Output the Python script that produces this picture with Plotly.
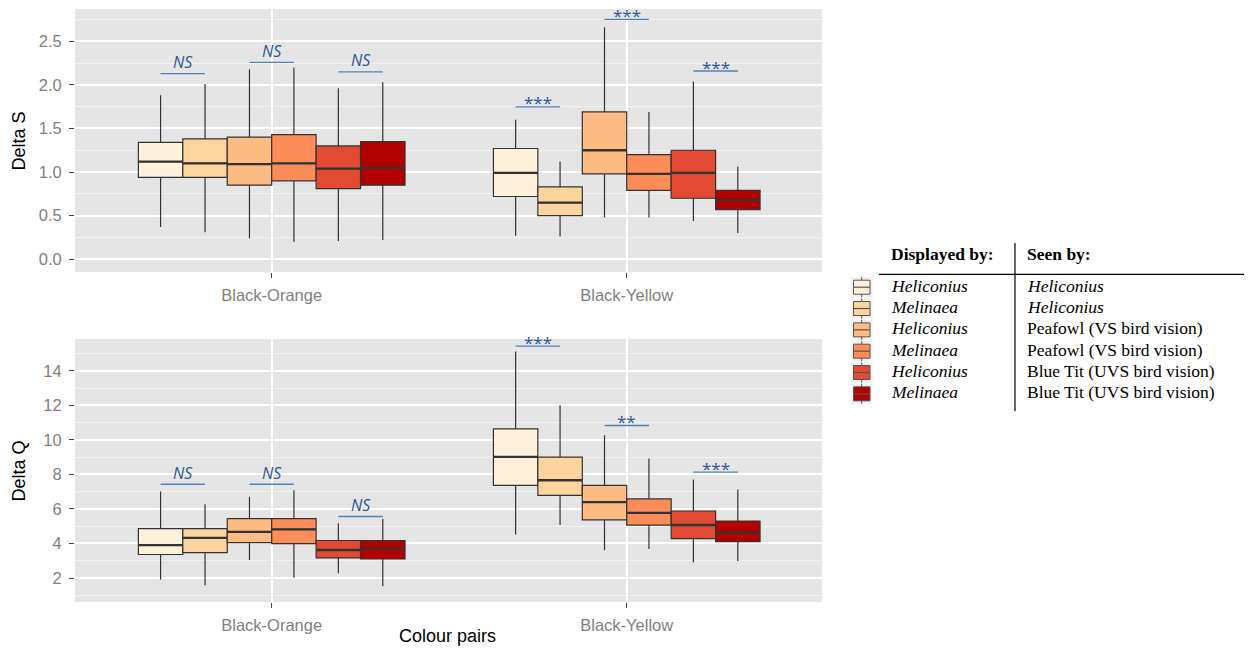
import plotly.graph_objects as go

# ---------------- data ----------------
categories = ['Black-Orange', 'Black-Yellow']
displayed_by = ['Heliconius', 'Melinaea', 'Heliconius', 'Melinaea', 'Heliconius', 'Melinaea']
seen_by = ['Heliconius', 'Heliconius', 'Peafowl (VS bird vision)', 'Peafowl (VS bird vision)',
           'Blue Tit (UVS bird vision)', 'Blue Tit (UVS bird vision)']
seen_italic = [True, True, False, False, False, False]
fill_colors = ['#FEF0D9', '#FDD49E', '#FDBB84', '#FC8D59', '#E34A33', '#B30000']

# Delta S: one list per series, values for [Black-Orange, Black-Yellow]
dS_low = [[0.37, 0.27], [0.31, 0.26], [0.24, 0.48], [0.20, 0.48], [0.21, 0.44], [0.22, 0.30]]
dS_q1 = [[0.94, 0.72], [0.94, 0.50], [0.85, 0.98], [0.90, 0.79], [0.81, 0.70], [0.85, 0.57]]
dS_med = [[1.12, 0.99], [1.10, 0.65], [1.09, 1.25], [1.10, 0.98], [1.04, 0.99], [1.05, 0.68]]
dS_q3 = [[1.34, 1.27], [1.38, 0.83], [1.40, 1.69], [1.43, 1.20], [1.30, 1.25], [1.35, 0.79]]
dS_high = [[1.88, 1.60], [2.01, 1.12], [2.18, 2.66], [2.20, 1.69], [1.96, 2.04], [2.03, 1.06]]

# Delta Q
dQ_low = [[1.91, 4.52], [1.58, 5.07], [3.04, 3.61], [2.02, 3.68], [2.27, 2.91], [1.52, 2.99]]
dQ_q1 = [[3.36, 7.36], [3.47, 6.78], [4.05, 5.36], [3.99, 5.06], [3.16, 4.28], [3.10, 4.11]]
dQ_med = [[3.90, 9.01], [4.32, 7.66], [4.67, 6.39], [4.81, 5.77], [3.62, 5.07], [3.72, 4.63]]
dQ_q3 = [[4.86, 10.64], [4.86, 9.00], [5.44, 7.36], [5.44, 6.58], [4.17, 5.88], [4.17, 5.30]]
dQ_high = [[7.01, 15.12], [6.27, 12.01], [6.70, 10.26], [7.08, 8.92], [5.17, 7.70], [5.42, 7.12]]

# significance brackets: per category, per pair of boxes (0-1, 2-3, 4-5)
sig_S_labels = [['NS', 'NS', 'NS'], ['***', '***', '***']]
sig_S_y = [[2.128, 2.259, 2.148], [1.747, 2.752, 2.159]]
sig_Q_labels = [['NS', 'NS', 'NS'], ['***', '**', '***']]
sig_Q_y = [[7.43, 7.43, 5.56], [15.43, 10.83, 8.13]]

# ---------------- layout helpers ----------------
# the page body adds an 8 px offset, so the figure is drawn 8 px smaller
OFF = 8
W, H = 1252 - OFF, 648 - OFF
ML, MR, MT, MB = 75 - OFF, 430, 9 - OFF, 46
PW, PH = W - ML - MR, H - MT - MB


def px(x):
    """window pixel x -> paper x"""
    return (x - OFF - ML) / PW


def py(y):
    """window pixel y -> paper y"""
    return (H - MB - (y - OFF)) / PH


BOXGAP = 0.249
NSER = len(fill_colors)


def box_center(cat_idx, ser_idx):
    group_w = 1 - BOXGAP
    return cat_idx - group_w / 2 + group_w * (ser_idx + 0.5) / NSER


fig = go.Figure()

panels = [
    ('x', 'y', 'S', dS_low, dS_q1, dS_med, dS_q3, dS_high),
    ('x2', 'y2', 'Q', dQ_low, dQ_q1, dQ_med, dQ_q3, dQ_high),
]
for xa, ya, grp, lo, q1, md, q3, hi in panels:
    for i in range(NSER):
        fig.add_trace(go.Box(
            x=categories, q1=q1[i], median=md[i], q3=q3[i],
            lowerfence=lo[i], upperfence=hi[i],
            fillcolor=fill_colors[i],
            line=dict(color='#333333', width=1.2),
            boxpoints=False, whiskerwidth=0,
            alignmentgroup=grp, offsetgroup=str(i),
            name=displayed_by[i] + ' / ' + seen_by[i],
            showlegend=False, xaxis=xa, yaxis=ya,
        ))
    # thicker median bar drawn over each box (same position group)
    for i in range(NSER):
        fig.add_trace(go.Box(
            x=categories, q1=md[i], median=md[i], q3=md[i],
            lowerfence=md[i], upperfence=md[i],
            fillcolor='rgba(0,0,0,0)',
            line=dict(color='#333333', width=2.3),
            boxpoints=False, whiskerwidth=0,
            alignmentgroup=grp, offsetgroup=str(i),
            hoverinfo='skip', showlegend=False, xaxis=xa, yaxis=ya,
        ))

# significance lines and labels
shapes = []
annotations = []
sig_line_col = '#4F81BD'
sig_text_col = '#2F5597'
for xa, ya, labels, ys in [('x', 'y', sig_S_labels, sig_S_y), ('x2', 'y2', sig_Q_labels, sig_Q_y)]:
    for c in range(len(categories)):
        for p in range(3):
            x0 = box_center(c, 2 * p)
            x1 = box_center(c, 2 * p + 1)
            yv = ys[c][p]
            shapes.append(dict(type='line', xref=xa, yref=ya, x0=x0, x1=x1, y0=yv, y1=yv,
                               line=dict(color=sig_line_col, width=1.3)))
            lab = labels[c][p]
            is_ns = lab == 'NS'
            annotations.append(dict(
                xref=xa, yref=ya, x=(x0 + x1) / 2, y=yv,
                text=('<i>%s</i>' % lab) if is_ns else lab,
                showarrow=False, xanchor='center', yanchor='middle',
                yshift=11.5 if is_ns else 4,
                font=dict(family='Open Sans', size=16 if is_ns else 17, color=sig_text_col)))

# axis titles
title_font = dict(family='Liberation Sans, Arial', size=18, color='#000000')
annotations.append(dict(xref='paper', yref='paper', x=px(18), y=py(140.5), text='Delta S',
                        textangle=-90, showarrow=False, xanchor='center', yanchor='middle',
                        font=title_font))
annotations.append(dict(xref='paper', yref='paper', x=px(18), y=py(470.5), text='Delta Q',
                        textangle=-90, showarrow=False, xanchor='center', yanchor='middle',
                        font=title_font))
annotations.append(dict(xref='paper', yref='paper', x=px(447), y=py(636), text='Colour pairs',
                        showarrow=False, xanchor='center', yanchor='middle', font=title_font))

# custom legend table
leg_font = 'Liberation Serif, Times New Roman'
leg_size = 17.5
annotations.append(dict(xref='paper', yref='paper', x=px(889), y=py(254),
                        text='<b>Displayed by:</b>', showarrow=False, xanchor='left',
                        yanchor='middle', font=dict(family=leg_font, size=leg_size, color='#000')))
annotations.append(dict(xref='paper', yref='paper', x=px(1025), y=py(254),
                        text='<b>Seen by:</b>', showarrow=False, xanchor='left',
                        yanchor='middle', font=dict(family=leg_font, size=leg_size, color='#000')))
shapes.append(dict(type='line', xref='paper', yref='paper', x0=px(879), x1=px(1252),
                   y0=py(274.3), y1=py(274.3), line=dict(color='#000', width=1.2)))
shapes.append(dict(type='line', xref='paper', yref='paper', x0=px(1015), x1=px(1015),
                   y0=py(243), y1=py(411), line=dict(color='#000', width=1.2)))
row0, drow = 285.7, 21.33
for i in range(NSER):
    cy = row0 + drow * i
    annotations.append(dict(xref='paper', yref='paper', x=px(889), y=py(cy),
                            text='<i>%s</i>' % displayed_by[i], showarrow=False,
                            xanchor='left', yanchor='middle',
                            font=dict(family=leg_font, size=leg_size, color='#000')))
    annotations.append(dict(xref='paper', yref='paper', x=px(1025), y=py(cy),
                            text=('<i>%s</i>' % seen_by[i]) if seen_italic[i] else seen_by[i],
                            showarrow=False, xanchor='left', yanchor='middle',
                            font=dict(family=leg_font, size=leg_size, color='#000')))
    ic = cy + 1.5
    shapes.append(dict(type='rect', xref='paper', yref='paper', x0=px(851), x1=px(872.5),
                       y0=py(ic - 10.2), y1=py(ic + 10.2), fillcolor='#F2F2F2',
                       line=dict(width=0), layer='below'))
    shapes.append(dict(type='line', xref='paper', yref='paper', x0=px(861.7), x1=px(861.7),
                       y0=py(ic - 10), y1=py(ic + 10), line=dict(color='#555555', width=1)))
    shapes.append(dict(type='rect', xref='paper', yref='paper', x0=px(853.5), x1=px(870),
                       y0=py(ic - 7), y1=py(ic + 7), fillcolor=fill_colors[i],
                       line=dict(color='#555555', width=1)))
    shapes.append(dict(type='line', xref='paper', yref='paper', x0=px(853.5), x1=px(870),
                       y0=py(ic), y1=py(ic), line=dict(color='#555555', width=1.2)))

tick_font = dict(family='Liberation Sans, Arial', size=16.5, color='#7F7F7F')
common_x = dict(type='category', categoryorder='array', categoryarray=categories,
                range=[-0.554, 1.55], showgrid=True, gridcolor='#FFFFFF', gridwidth=1.6,
                ticks='outside', ticklen=5, tickcolor='#444444', tickwidth=1.2,
                tickfont=tick_font, zeroline=False, showline=False, fixedrange=True,
                automargin=False, ticklabelstandoff=3)
common_y = dict(showgrid=True, gridcolor='#FFFFFF', gridwidth=1.6, zeroline=False,
                ticks='outside', ticklen=5, tickcolor='#444444', tickwidth=1.2,
                tickfont=tick_font, showline=False, fixedrange=True, automargin=False,
                ticklabelstandoff=4)

fig.update_layout(
    width=W, height=H,
    margin=dict(l=ML, r=MR, t=MT, b=MB, autoexpand=False),
    paper_bgcolor='#FFFFFF', plot_bgcolor='#E5E5E5',
    boxmode='group', boxgap=BOXGAP, boxgroupgap=0,
    showlegend=False,
    xaxis=dict(domain=[0, 1], anchor='y', **common_x),
    xaxis2=dict(domain=[0, 1], anchor='y2', **common_x),
    yaxis=dict(domain=[py(272), 1], anchor='x', range=[-0.146, 2.87], tick0=0, dtick=0.5,
               tickformat='.1f',
               minor=dict(dtick=0.25, showgrid=True, gridcolor='#F2F2F2', gridwidth=0.8),
               **common_y),
    yaxis2=dict(domain=[0, py(339)], anchor='x2', range=[0.61, 15.84], tick0=0, dtick=2,
                minor=dict(dtick=1, showgrid=True, gridcolor='#F2F2F2', gridwidth=0.8),
                **common_y),
    shapes=shapes, annotations=annotations,
)

fig.write_html('out.html')
